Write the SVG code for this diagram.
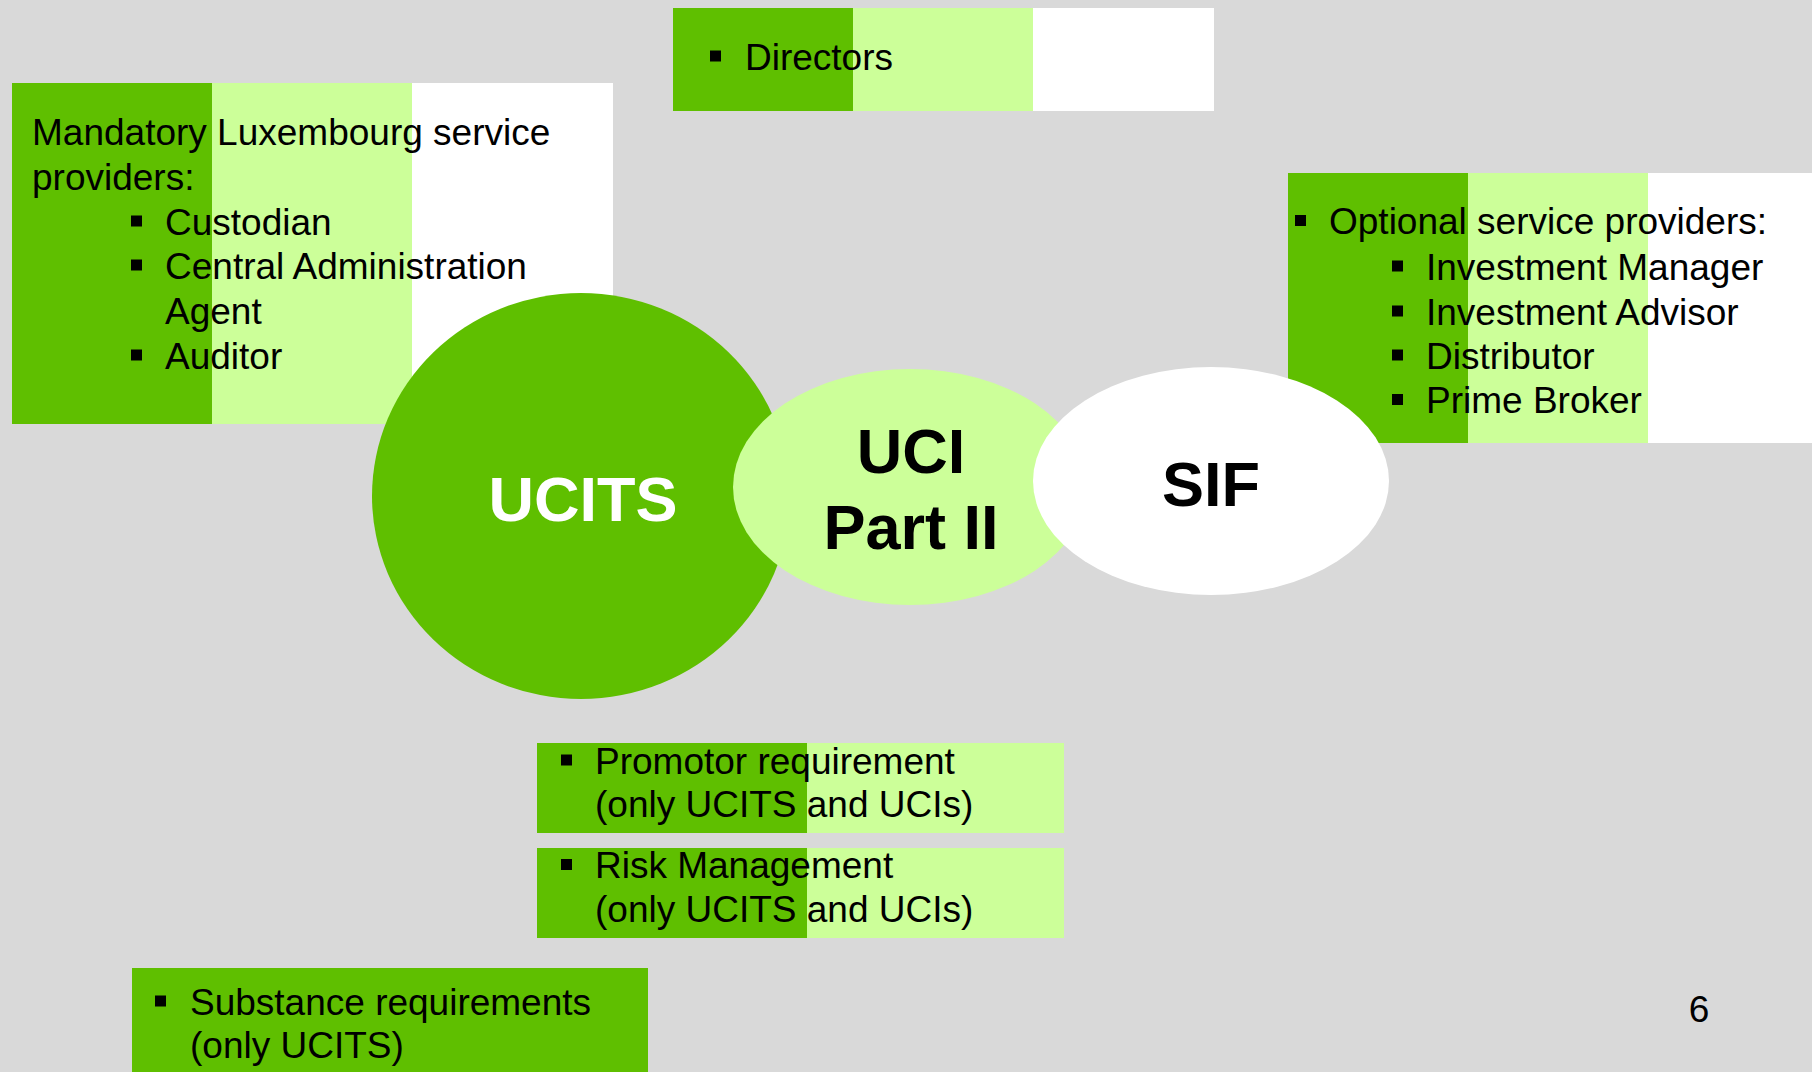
<svg xmlns="http://www.w3.org/2000/svg" width="1812" height="1072" viewBox="0 0 1812 1072">
  <style>
    .dk { fill: #5FBF00; }
    .lt { fill: #CCFF99; }
    .wh { fill: #FFFFFF; }
    .t { font-family: "Liberation Sans", Arial, sans-serif; font-size: 37px; fill: #000; }
    .b { font-family: "Liberation Sans", Arial, sans-serif; font-size: 63px; font-weight: bold; text-anchor: middle; }
  </style>
  <defs>
    <rect id="blt" x="0" y="-19" width="11" height="11" fill="#000"/>
  </defs>
  <rect x="0" y="0" width="1812" height="1072" fill="#D9D9D9"/>

  <g id="mandatory">
    <rect class="dk" x="12" y="83" width="201" height="341"/>
    <rect class="lt" x="212" y="83" width="201" height="341"/>
    <rect class="wh" x="412" y="83" width="201" height="341"/>
    <text class="t" x="32" y="144.5">Mandatory Luxembourg service</text>
    <text class="t" x="32" y="189.5">providers:</text>
    <use href="#blt" x="131" y="234.5"/>
    <text class="t" x="165" y="234.5">Custodian</text>
    <use href="#blt" x="131" y="278.5"/>
    <text class="t" x="165" y="278.5">Central Administration</text>
    <text class="t" x="165" y="323.5">Agent</text>
    <use href="#blt" x="131" y="368.5"/>
    <text class="t" x="165" y="368.5">Auditor</text>
  </g>

  <g id="directors">
    <rect class="dk" x="673" y="8" width="181" height="103"/>
    <rect class="lt" x="853" y="8" width="181" height="103"/>
    <rect class="wh" x="1033" y="8" width="181" height="103"/>
    <use href="#blt" x="710" y="69.5"/>
    <text class="t" x="745" y="69.5">Directors</text>
  </g>

  <g id="optional">
    <rect class="dk" x="1288" y="173" width="181" height="270"/>
    <rect class="lt" x="1468" y="173" width="181" height="270"/>
    <rect class="wh" x="1648" y="173" width="180" height="270"/>
    <use href="#blt" x="1295" y="234"/>
    <text class="t" x="1329" y="234">Optional service providers:</text>
    <use href="#blt" x="1392" y="279.5"/>
    <text class="t" x="1426" y="279.5">Investment Manager</text>
    <use href="#blt" x="1392" y="324.5"/>
    <text class="t" x="1426" y="324.5">Investment Advisor</text>
    <use href="#blt" x="1392" y="368.5"/>
    <text class="t" x="1426" y="368.5">Distributor</text>
    <use href="#blt" x="1392" y="413"/>
    <text class="t" x="1426" y="413">Prime Broker</text>
  </g>

  <g id="ucits">
    <ellipse class="dk" cx="581" cy="496" rx="209" ry="203"/>
    <text class="b" x="583" y="521" fill="#FFFFFF">UCITS</text>
  </g>

  <g id="uci">
    <ellipse class="lt" cx="910" cy="487" rx="177" ry="118"/>
    <text class="b" x="911" y="473" fill="#000">UCI</text>
    <text class="b" x="911" y="549" fill="#000">Part II</text>
  </g>

  <g id="sif">
    <ellipse class="wh" cx="1211" cy="481" rx="178" ry="114"/>
    <text class="b" x="1211" y="506" fill="#000">SIF</text>
  </g>

  <g id="promotor">
    <rect class="dk" x="537" y="743" width="271" height="90"/>
    <rect class="lt" x="807" y="743" width="257" height="90"/>
    <use href="#blt" x="561" y="773.5"/>
    <text class="t" x="595" y="773.5">Promotor requirement</text>
    <text class="t" x="595" y="816.5">(only UCITS and UCIs)</text>
  </g>

  <g id="risk">
    <rect class="dk" x="537" y="848" width="271" height="90"/>
    <rect class="lt" x="807" y="848" width="257" height="90"/>
    <use href="#blt" x="561" y="878"/>
    <text class="t" x="595" y="878">Risk Management</text>
    <text class="t" x="595" y="921.5">(only UCITS and UCIs)</text>
  </g>

  <g id="substance">
    <rect class="dk" x="132" y="968" width="516" height="104"/>
    <use href="#blt" x="155" y="1014.5"/>
    <text class="t" x="190" y="1014.5">Substance requirements</text>
    <text class="t" x="190" y="1058">(only UCITS)</text>
  </g>

  <g id="connectors"/>

  <text class="t" x="1699" y="1022" text-anchor="middle">6</text>
</svg>
